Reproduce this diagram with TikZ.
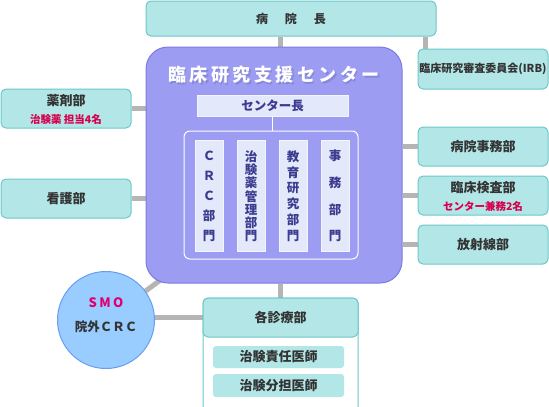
\documentclass[tikz,border=0pt]{standalone}
\usepackage{fontspec}
\setmainfont{Noto Sans CJK JP}
\usetikzlibrary{backgrounds}
\definecolor{tealf}{HTML}{B3E6E6}
\definecolor{tealb}{HTML}{6CC8C8}
\definecolor{purp}{HTML}{9C9CF2}
\definecolor{purpb}{HTML}{7C7CE0}
\definecolor{conn}{HTML}{B5B5B5}
\definecolor{txt}{HTML}{333333}
\definecolor{redt}{HTML}{D6004F}
\definecolor{navy}{HTML}{3B3B8F}
\definecolor{lightb}{HTML}{E3E8FA}
\definecolor{smof}{HTML}{99CCFF}
\definecolor{smob}{HTML}{6A9CF5}
\definecolor{shadowc}{HTML}{7C7CCC}
\newcommand\fz[1]{\fontsize{#1}{#1}\selectfont\bfseries}
\newcommand\titletext{臨\hspace{3.5pt}床\hspace{3.5pt}研\hspace{3.5pt}究\hspace{3.5pt}支\hspace{3.5pt}援\hspace{3.5pt}セ\hspace{3.5pt}ン\hspace{3.5pt}タ\hspace{3.5pt}ー}
\begin{document}
\begin{tikzpicture}[x=1pt,y=-1pt,
  tbox/.style={draw=tealb, fill=tealf, rounded corners=5pt, line width=1pt, text=txt, inner sep=0pt},
  dbox/.style={fill=tealf, rounded corners=3pt, text=txt, inner sep=0pt, font=\fz{13}},
  colbox/.style={fill=lightb, draw=white!60!lightb, line width=0.6pt, minimum width=28pt, minimum height=111pt, inner sep=0pt},
  coltext/.style={text=navy, font=\fz{12.5}, inner sep=0pt},
  connline/.style={draw=conn, line width=5pt},
  redlabel/.style={text=redt, font=\fz{10.5}, inner sep=0pt},
  mainlabel/.style={text=txt, font=\fz{13}, inner sep=0pt}]
\useasboundingbox (0,0) rectangle (549,407);
% top
\node[tbox, minimum width=290pt, minimum height=35pt, font=\fz{12}] (byoin) at (291,18.5) {病\hspace{17pt}院\hspace{17pt}長};
\node[tbox, minimum width=130pt, minimum height=40pt, font=\fz{11}] (irb) at (483,69) {臨床研究審査委員会(IRB)};
% center box
\node[draw=purpb, fill=purp, line width=1pt, rounded corners=22pt, minimum width=256pt, minimum height=236pt] (center) at (274,165) {};
\node[text=shadowc, opacity=0.6, font=\fz{18}, inner sep=0pt] (titleshadow) at (275.5,76.5) {\titletext};
\node[text=white, font=\fz{18}, inner sep=0pt] (title) at (274,75) {\titletext};
\node[fill=lightb, draw=white!60!lightb, line width=0.6pt, minimum width=151pt, minimum height=21pt, inner sep=0pt, text=navy, font=\fz{12.5}] (chief) at (272.5,105.5) {センター長};
\node[draw=white, line width=1pt, rounded corners=6pt, minimum width=174pt, minimum height=128pt] (inner) at (271,195) {};
\draw[white, line width=1pt] (chief.south) -- (chief.south |- inner.north);
\node[colbox] (col1) at (209,195.5) {};
\node[colbox] (col2) at (251,195.5) {};
\node[colbox] (col3) at (293,195.5) {};
\node[colbox] (col4) at (335,195.5) {};
\foreach \c [count=\i] in {Ｃ,Ｒ,Ｃ,部,門}
  \node[coltext] (ca-\i) at (209,{156+(\i-1)*20}) {\c};
\foreach \c [count=\i] in {治,験,薬,管,理,部,門}
  \node[coltext] (cb-\i) at (251,{156.5+(\i-1)*79.5/6}) {\c};
\foreach \c [count=\i] in {教,育,研,究,部,門}
  \node[coltext] (cc-\i) at (293,{156.5+(\i-1)*79.5/5}) {\c};
\foreach \c [count=\i] in {事,務,部,門}
  \node[coltext] (cd-\i) at (335,{156+(\i-1)*80/3}) {\c};
% left
\node[tbox, minimum width=130pt, minimum height=39pt] (yaku) at (66,108.5) {};
\node[mainlabel] (yakut) at (66,101) {薬剤部};
\node[redlabel] (yakur) at (66,119) {治験薬 担当4名};
\node[tbox, minimum width=130pt, minimum height=39pt, font=\fz{13}] (kango) at (66,198.5) {看護部};
% right
\node[tbox, minimum width=130pt, minimum height=39pt, font=\fz{13}] (jimu) at (483,146.5) {病院事務部};
\node[tbox, minimum width=130pt, minimum height=39pt] (kensa) at (483,195.5) {};
\node[mainlabel] (kensat) at (483,188) {臨床検査部};
\node[redlabel] (kensar) at (483,206) {センター兼務2名};
\node[tbox, minimum width=130pt, minimum height=39pt, font=\fz{13}] (hosha) at (483,244.5) {放射線部};
% SMO
\node[circle, draw=smob, fill=smof, line width=1pt, minimum size=97pt, inner sep=0pt] (smo) at (106,320) {};
\node[text=redt!80!magenta, font=\fz{13}, inner sep=0pt] (smot) at (106,303) {S\hspace{2.5pt}M\hspace{2.5pt}O};
\node[text=txt, font=\fz{12.5}, inner sep=0pt] (smoc) at (106,327) {院外ＣＲＣ};
\coordinate (smoend) at (166,276);
% shinryo
\draw[tealb, fill=white, line width=1pt, rounded corners=5pt] (203,412) -- (203,298) -- (358,298) -- (358,412);
\node[tbox, minimum width=155pt, minimum height=39pt, font=\fz{13}] (shinryo) at (280.5,317.5) {各診療部};
\node[dbox, minimum width=131pt, minimum height=22pt] (sekinin) at (278.5,357) {治験責任医師};
\node[dbox, minimum width=131pt, minimum height=23pt] (buntan) at (278.5,385.5) {治験分担医師};
% connectors
\begin{scope}[on background layer]
\draw[connline] (shinryo.north |- byoin.south) -- (shinryo.north |- center.north);
\draw[connline] ([xshift=8pt]irb.north west) -- ([xshift=8pt]irb.north west |- byoin.south);
\draw[connline] (yaku.east) -- (yaku.east -| center.west);
\draw[connline] (kango.east) -- (kango.east -| center.west);
\draw[connline] (jimu.west) -- (jimu.west -| center.east);
\draw[connline] (kensa.west) -- (kensa.west -| center.east);
\draw[connline] (hosha.west) -- (hosha.west -| center.east);
\draw[connline] (smo.center) -- (smoend);
\draw[connline] (smo.center |- shinryo) -- (shinryo.west);
\draw[connline] (shinryo.north) -- (shinryo.north |- center.south);
\draw[connline] (sekinin.south -| shinryo.north) -- (buntan.north -| shinryo.north);
\end{scope}
\end{tikzpicture}
\end{document}
